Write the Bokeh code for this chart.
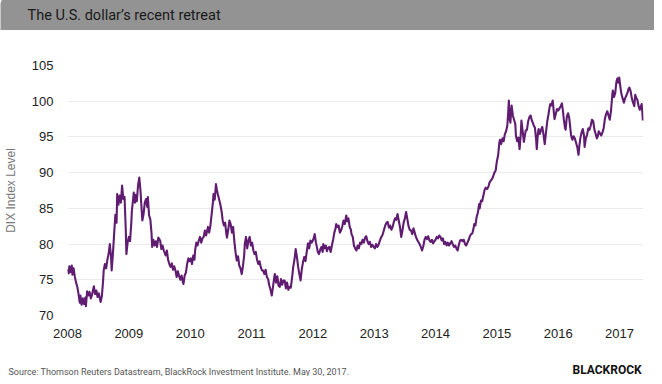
from bokeh.plotting import figure
from bokeh.models import Range1d, FixedTicker, Label
from bokeh.embed import file_html
from bokeh.resources import INLINE

# ---- data: DXY (DIX) index level ----
t = [
    # 2008
    2008.00, 2008.02, 2008.03, 2008.05, 2008.07, 2008.08, 2008.10, 2008.12, 2008.14, 2008.16,
    2008.18, 2008.20, 2008.21, 2008.23, 2008.25, 2008.27, 2008.29, 2008.30, 2008.32, 2008.34,
    2008.36, 2008.38, 2008.40, 2008.43, 2008.45, 2008.47, 2008.49, 2008.51, 2008.54, 2008.56,
    2008.58, 2008.59, 2008.61, 2008.63, 2008.65, 2008.67, 2008.69, 2008.71, 2008.72, 2008.74,
    2008.76, 2008.78, 2008.80, 2008.81, 2008.83, 2008.85, 2008.87, 2008.89, 2008.91, 2008.93,
    2008.95, 2008.96, 2008.98,
    # 2009
    2009.00, 2009.02, 2009.04, 2009.05, 2009.07, 2009.08, 2009.10, 2009.11, 2009.13, 2009.15,
    2009.17, 2009.19, 2009.20, 2009.22, 2009.24, 2009.26, 2009.28, 2009.30, 2009.31, 2009.33,
    2009.35, 2009.37, 2009.38, 2009.40, 2009.42, 2009.44, 2009.46, 2009.48, 2009.51, 2009.53,
    2009.55, 2009.57, 2009.60, 2009.62, 2009.64, 2009.66, 2009.68, 2009.70, 2009.72, 2009.74,
    2009.76, 2009.78, 2009.80, 2009.82, 2009.84, 2009.86, 2009.88, 2009.89, 2009.91, 2009.93,
    2009.95, 2009.97, 2009.99,
    # 2010
    2010.01, 2010.03, 2010.05, 2010.07, 2010.08, 2010.10, 2010.12, 2010.14, 2010.16, 2010.18,
    2010.20, 2010.22, 2010.24, 2010.26, 2010.27, 2010.29, 2010.31, 2010.33, 2010.35, 2010.37,
    2010.38, 2010.40, 2010.42, 2010.435, 2010.45, 2010.47, 2010.49, 2010.51, 2010.53, 2010.55,
    2010.57, 2010.59, 2010.60, 2010.62, 2010.64, 2010.66, 2010.68, 2010.70, 2010.72, 2010.74,
    2010.76, 2010.78, 2010.80, 2010.82, 2010.84, 2010.86, 2010.88, 2010.89, 2010.91, 2010.93,
    2010.95, 2010.97, 2010.99,
    # 2011
    2011.01, 2011.03, 2011.05, 2011.07, 2011.09, 2011.11, 2011.13, 2011.15, 2011.17, 2011.19,
    2011.21, 2011.23, 2011.25, 2011.27, 2011.29, 2011.31, 2011.33, 2011.35, 2011.37, 2011.38,
    2011.40, 2011.42, 2011.44, 2011.46, 2011.48, 2011.50, 2011.52, 2011.54, 2011.56, 2011.58,
    2011.60, 2011.62, 2011.64, 2011.66, 2011.68, 2011.70, 2011.72, 2011.74, 2011.76, 2011.78,
    2011.80, 2011.82, 2011.84, 2011.86, 2011.88, 2011.90, 2011.92, 2011.94, 2011.96, 2011.98,
    # 2012
    2012.00, 2012.02, 2012.03, 2012.05, 2012.07, 2012.08, 2012.10, 2012.12, 2012.14, 2012.16,
    2012.17, 2012.19, 2012.21, 2012.23, 2012.25, 2012.27, 2012.29, 2012.31, 2012.33, 2012.35,
    2012.37, 2012.38, 2012.40, 2012.42, 2012.44, 2012.46, 2012.48, 2012.50, 2012.52, 2012.545,
    2012.56, 2012.58, 2012.60, 2012.62, 2012.63, 2012.65, 2012.67, 2012.69, 2012.71, 2012.73,
    2012.75, 2012.77, 2012.79, 2012.81, 2012.83, 2012.85, 2012.87, 2012.89, 2012.91, 2012.93,
    2012.95, 2012.97, 2012.99,
    # 2013
    2013.01, 2013.03, 2013.05, 2013.07, 2013.09, 2013.11, 2013.13, 2013.14, 2013.16, 2013.18,
    2013.20, 2013.22, 2013.24, 2013.26, 2013.28, 2013.30, 2013.32, 2013.34, 2013.36, 2013.38,
    2013.40, 2013.42, 2013.44, 2013.46, 2013.48, 2013.50, 2013.52, 2013.54, 2013.56, 2013.58,
    2013.60, 2013.62, 2013.64, 2013.66, 2013.68, 2013.70, 2013.72, 2013.74, 2013.76, 2013.78,
    2013.80, 2013.82, 2013.84, 2013.86, 2013.88, 2013.90, 2013.92, 2013.94, 2013.96, 2013.98,
    # 2014
    2014.00, 2014.02, 2014.04, 2014.06, 2014.08, 2014.10, 2014.12, 2014.14, 2014.16, 2014.18,
    2014.20, 2014.22, 2014.24, 2014.26, 2014.28, 2014.30, 2014.32, 2014.34, 2014.36, 2014.38,
    2014.40, 2014.42, 2014.44, 2014.46, 2014.48, 2014.50, 2014.52, 2014.54, 2014.56, 2014.58,
    2014.60, 2014.62, 2014.63, 2014.65, 2014.67, 2014.69, 2014.71, 2014.72, 2014.74, 2014.76,
    2014.78, 2014.80, 2014.82, 2014.84, 2014.86, 2014.88, 2014.90, 2014.92, 2014.94, 2014.96,
    2014.98,
    # 2015
    2015.00, 2015.02, 2015.04, 2015.05, 2015.07, 2015.09, 2015.11, 2015.13, 2015.15, 2015.17,
    2015.185, 2015.195, 2015.21, 2015.22, 2015.24, 2015.26, 2015.28, 2015.30, 2015.31, 2015.33,
    2015.35, 2015.37, 2015.39, 2015.40, 2015.42, 2015.44, 2015.46, 2015.47, 2015.49, 2015.51,
    2015.53, 2015.55, 2015.57, 2015.59, 2015.60, 2015.62, 2015.64, 2015.65, 2015.67, 2015.68,
    2015.70, 2015.72, 2015.74, 2015.76, 2015.78, 2015.80, 2015.82, 2015.84, 2015.86, 2015.87,
    2015.89, 2015.91, 2015.93, 2015.94, 2015.96, 2015.98,
    # 2016
    2016.00, 2016.02, 2016.04, 2016.06, 2016.08, 2016.09, 2016.11, 2016.12, 2016.14, 2016.16,
    2016.18, 2016.20, 2016.21, 2016.23, 2016.25, 2016.27, 2016.29, 2016.31, 2016.33, 2016.345,
    2016.36, 2016.38, 2016.40, 2016.42, 2016.43, 2016.45, 2016.47, 2016.49, 2016.51, 2016.53,
    2016.55, 2016.57, 2016.59, 2016.61, 2016.63, 2016.645, 2016.66, 2016.68, 2016.70, 2016.72,
    2016.74, 2016.76, 2016.78, 2016.80, 2016.82, 2016.84, 2016.86, 2016.88, 2016.89, 2016.91,
    2016.93, 2016.95, 2016.965, 2016.98, 2016.995,
    # 2017
    2017.01, 2017.03, 2017.05, 2017.07, 2017.09, 2017.11, 2017.13, 2017.145, 2017.16, 2017.18,
    2017.20, 2017.22, 2017.24, 2017.255, 2017.27, 2017.29, 2017.31, 2017.33, 2017.345, 2017.36,
    2017.37, 2017.38,
]

dix = [
    # 2008
    76.5, 75.9, 76.9, 76.1, 77.0, 75.7, 76.6, 75.4, 74.6, 74.0,
    73.0, 71.8, 72.8, 71.5, 72.4, 71.6, 72.5, 71.3, 73.4, 72.8,
    73.3, 72.4, 72.9, 74.1, 73.0, 73.5, 72.6, 73.1, 71.9, 72.7,
    74.8, 76.3, 77.2, 76.6, 77.8, 78.6, 80.0, 78.2, 76.3, 78.6,
    81.4, 84.1, 83.0, 87.0, 85.5, 86.8, 85.8, 88.2, 86.3, 86.6,
    82.0, 78.6, 80.2,
    # 2009
    81.0, 80.4, 83.0, 84.7, 86.3, 87.2, 85.8, 86.9, 86.0, 88.2,
    89.3, 87.5, 86.0, 83.3, 84.2, 85.8, 86.3, 85.2, 86.6, 84.0,
    83.5, 81.5, 79.6, 80.6, 79.8, 80.4, 79.6, 80.9, 80.5, 79.3,
    79.8, 79.1, 78.4, 79.1, 77.8, 77.2, 76.8, 77.3, 76.4, 76.9,
    76.3, 75.4, 76.2, 75.5, 75.0, 75.6, 74.7, 74.4, 75.6, 76.0,
    77.2, 78.0, 77.6,
    # 2010
    78.0, 77.2, 78.4, 77.8, 79.1, 80.2, 79.8, 80.5, 81.0, 80.2,
    80.8, 81.0, 81.9, 81.2, 81.6, 82.4, 81.6, 82.6, 84.2, 85.8,
    87.0, 86.2, 88.4, 87.6, 87.0, 86.3, 85.6, 84.7, 83.3, 82.6,
    83.0, 81.4, 80.9, 82.0, 83.3, 82.8, 81.6, 82.4, 80.4, 78.8,
    77.7, 78.3, 77.0, 76.6, 75.8, 76.9, 78.4, 80.0, 81.0, 79.4,
    80.5, 81.0, 79.8,
    # 2011
    80.2, 79.1, 78.6, 78.9, 77.8, 77.2, 77.6, 76.8, 76.3, 76.3,
    75.8, 76.4, 75.4, 75.1, 74.2, 73.6, 72.8, 74.0, 75.3, 75.8,
    74.6, 75.5, 74.2, 74.0, 75.1, 74.3, 74.9, 74.9, 73.8, 74.6,
    73.6, 74.0, 73.9, 75.2, 76.8, 77.8, 79.3, 78.2, 76.8, 75.8,
    74.9, 76.5, 77.5, 78.2, 77.6, 78.9, 80.1, 79.4, 80.5, 80.2,
    # 2012
    80.5, 81.0, 81.4, 80.2, 79.4, 78.9, 78.6, 79.2, 79.6, 78.9,
    80.0, 79.4, 79.8, 79.0, 79.5, 79.6, 78.9, 79.8, 80.6, 81.6,
    82.2, 82.8, 82.4, 82.6, 81.6, 81.9, 82.5, 83.3, 82.8, 84.0,
    83.2, 83.6, 82.4, 82.0, 81.4, 81.0, 79.8, 79.4, 79.1, 79.8,
    79.4, 80.2, 80.0, 80.6, 80.2, 80.9, 81.1, 80.4, 80.0, 80.3,
    79.6, 79.9, 79.6,
    # 2013
    79.4, 80.0, 79.6, 79.9, 80.4, 80.9, 81.2, 81.4, 82.0, 82.6,
    83.0, 83.1, 82.3, 82.6, 82.0, 82.4, 83.1, 83.6, 83.4, 84.2,
    83.3, 82.4, 81.0, 81.9, 83.0, 83.6, 84.5, 83.5, 82.5, 82.0,
    81.9, 81.4, 82.2, 81.6, 81.0, 80.6, 80.3, 80.0, 79.6, 79.1,
    79.7, 80.6, 81.0, 80.7, 81.1, 80.5, 80.3, 80.6, 80.1, 80.4,
    # 2014
    80.6, 81.0, 80.8, 81.2, 81.0, 80.5, 80.8, 80.0, 80.3, 79.8,
    80.2, 79.8, 80.1, 80.4, 80.0, 79.6, 79.8, 79.4, 79.1, 79.9,
    80.5, 80.6, 80.4, 80.6, 80.0, 79.8, 80.2, 80.6, 81.1, 81.4,
    81.5, 82.2, 82.8, 82.6, 83.8, 84.4, 85.6, 85.0, 86.1, 86.0,
    86.8, 87.6, 87.9, 87.7, 88.0, 88.6, 88.9, 89.1, 89.5, 90.0,
    90.3,
    # 2015
    91.6, 92.4, 94.2, 94.6, 94.0, 94.8, 94.4, 95.4, 95.8, 96.6,
    98.5, 100.1, 97.4, 97.0, 99.4, 98.0, 97.4, 96.8, 95.2, 94.4,
    94.9, 93.3, 95.5, 97.3, 95.8, 94.3, 95.4, 95.9, 96.0, 97.2,
    97.8, 98.0, 97.3, 96.9, 96.6, 96.3, 94.6, 93.3, 95.6, 96.1,
    95.4, 96.0, 96.4, 95.3, 94.0, 95.6, 97.1, 98.1, 99.2, 99.6,
    99.4, 100.1, 98.3, 97.5, 98.2, 98.9,
    # 2016
    98.7, 99.0, 99.3, 99.7, 98.4, 97.5, 96.3, 96.0, 97.8, 98.3,
    97.6, 96.0, 95.2, 94.6, 95.1, 94.8, 94.2, 93.6, 92.5, 93.8,
    94.8, 95.6, 96.1, 95.2, 93.6, 94.8, 95.3, 96.2, 96.0, 96.6,
    97.4, 97.2, 96.0, 95.4, 94.8, 95.1, 95.8, 95.5, 95.2, 95.6,
    96.2, 97.5, 98.2, 98.6, 98.0, 97.4, 98.6, 100.8, 101.5, 100.6,
    101.2, 102.8, 103.2, 102.6, 103.3,
    # 2017
    102.2, 101.0, 100.4, 99.8, 100.4, 100.8, 101.2, 101.7, 101.9, 101.4,
    100.4, 99.8, 99.3, 100.9, 100.5, 100.2, 99.3, 98.8, 99.2, 99.6,
    98.6, 97.3,
]

year_ticks = [2008, 2009, 2010, 2011, 2012, 2013, 2014, 2015, 2016, 2017]
level_ticks = [70, 75, 80, 85, 90, 95, 100, 105]

title_text = "The U.S. dollar\u2019s recent retreat"
y_label = "DIX Index Level"
source_text = "Source: Thomson Reuters Datastream, BlackRock Investment Institute. May 30, 2017."
logo_text = "BLACKROCK"

# ---- figure (frame placed to match the reference) ----
W, H = 654, 376
FL, FR, FT, FB = 67, 643, 65, 315

p = figure(width=W, height=H, output_backend="svg", toolbar_location=None, title=None,
           x_range=Range1d(2008, 2017.39), y_range=Range1d(70, 105),
           min_border_left=FL, min_border_right=W - FR, min_border_top=FT,
           min_border_bottom=H - FB)
p.background_fill_color = "white"
p.border_fill_color = "white"
p.outline_line_color = None

p.line(t, dix, line_color="#5f1c70", line_width=2.1, line_join="round")

xa = p.xaxis[0]
xa.ticker = FixedTicker(ticks=year_ticks)
xa.axis_line_color = None
xa.major_tick_line_color = None
xa.minor_tick_line_color = None
xa.major_label_standoff = 7
xa.major_label_text_font = "Liberation Sans"
xa.major_label_text_font_size = "13px"
xa.major_label_text_color = "#222222"

ya = p.yaxis[0]
ya.ticker = FixedTicker(ticks=level_ticks)
ya.axis_line_color = None
ya.major_tick_line_color = None
ya.minor_tick_line_color = None
ya.major_label_standoff = 8
ya.major_label_text_font = "Liberation Sans"
ya.major_label_text_font_size = "13px"
ya.major_label_text_color = "#222222"
ya.axis_label = y_label
ya.axis_label_text_font = "Liberation Sans"
ya.axis_label_text_font_size = "12px"
ya.axis_label_text_font_style = "normal"
ya.axis_label_text_color = "#777777"
ya.axis_label_standoff = 11

p.xgrid.grid_line_color = None
p.ygrid.grid_line_color = "#ebebeb"
p.ygrid.grid_line_width = 1

# ---- title bar (label in the top side panel; its padded background is the grey band) ----
title = Label(x=0 - FL, y=FT - 13.5, x_units="screen", y_units="screen",
              text=title_text, text_font="Roboto", text_font_size="14.5px",
              text_color="#1a1a1a", text_baseline="alphabetic",
              background_fill_color="#939393", background_fill_alpha=1.0,
              padding=dict(left=27, right=520, top=9, bottom=6),
              border_radius=dict(top_left=6, top_right=6, bottom_right=0, bottom_left=0))
p.add_layout(title, "above")

# ---- footer (labels in the bottom side panels) ----
source = Label(x=8 - FL, y=-21, x_units="screen", y_units="screen",
               text=source_text, text_font="Roboto", text_font_size="9px",
               text_color="#555555", text_baseline="alphabetic")
p.add_layout(source, "below")

logo = Label(x=572 - FL, y=-5, x_units="screen", y_units="screen",
             text=logo_text, text_font="Roboto", text_font_size="12px",
             text_font_style="bold", text_color="#111111", text_baseline="alphabetic")
p.add_layout(logo, "below")

open("out.html", "w").write(file_html(p, INLINE))
